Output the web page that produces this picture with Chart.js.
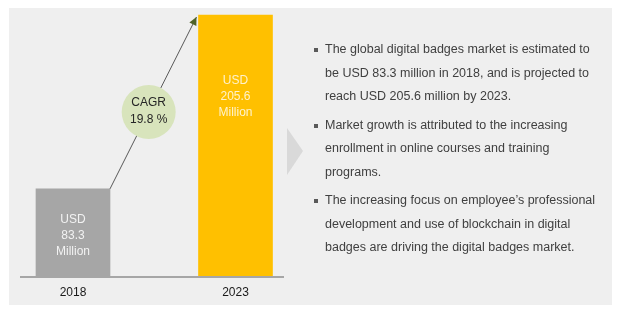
<!DOCTYPE html>
<html>
<head>
<meta charset="utf-8">
<script src="https://cdn.jsdelivr.net/npm/chart.js@4"></script>
<style>
  html, body { margin: 0; padding: 0; background: #ffffff; }
  #wrap { position: relative; width: 619px; height: 317px; }
  #chart { position: absolute; left: 0; top: 0; }
  #notes {
    position: absolute; left: 312px; top: 38px; width: 300px;
    font-family: "Liberation Sans", Arial, sans-serif;
    font-size: 12.5px; line-height: 23.5px; color: #404040;
    margin: 0; padding: 0; list-style: none; white-space: nowrap;
  }
  #notes li { position: relative; padding-left: 13px; margin-bottom: 5px; }
  #notes li::before {
    content: ""; position: absolute; left: 2px; top: 10px;
    width: 4px; height: 4px; background: #595959;
  }
</style>
</head>
<body>
<div id="wrap">
  <canvas id="chart" width="619" height="317"></canvas>
  <ul id="notes"></ul>
</div>
<script>
// data
const years = ['2018', '2023'];
const marketSize = [83.3, 205.6];
const barLabels = [['USD', '83.3', 'Million'], ['USD', '205.6', 'Million']];
const cagrText = ['CAGR', '19.8 %'];
const notes = [
  ['The global digital badges market is estimated to', 'be USD 83.3 million in 2018, and is projected to', 'reach USD 205.6 million by 2023.'],
  ['Market growth is attributed to the increasing', 'enrollment in online courses and training', 'programs.'],
  ['The increasing focus on employee\u2019s professional', 'development and use of blockchain in digital', 'badges are driving the digital badges market.']
];

const ul = document.getElementById('notes');
notes.forEach(lines => {
  const li = document.createElement('li');
  lines.forEach((t, k) => {
    if (k) li.appendChild(document.createElement('br'));
    li.appendChild(document.createTextNode(t));
  });
  ul.appendChild(li);
});

const FONT = '"Liberation Sans", Arial, sans-serif';

// background panel, axis line, arrow, bubble, labels
const decor = {
  id: 'decor',
  beforeDraw(chart) {
    const ctx = chart.ctx;
    ctx.save();
    ctx.fillStyle = '#efefef';
    ctx.fillRect(9, 8, 603, 297);
    // chevron
    ctx.fillStyle = '#d9d9d9';
    ctx.beginPath();
    ctx.moveTo(287, 128);
    ctx.lineTo(303, 151);
    ctx.lineTo(287, 175);
    ctx.closePath();
    ctx.fill();
    ctx.restore();
  },
  afterDatasetsDraw(chart) {
    const ctx = chart.ctx;
    const x = chart.scales.x, y = chart.scales.y;
    const meta = chart.getDatasetMeta(0);
    ctx.save();
    // axis line
    const base = y.bottom;
    ctx.strokeStyle = '#a6a6a6';
    ctx.lineWidth = 2;
    ctx.beginPath();
    ctx.moveTo(20, base + 1);
    ctx.lineTo(284, base + 1);
    ctx.stroke();

    // year labels
    ctx.fillStyle = '#1a1a1a';
    ctx.font = '12px ' + FONT;
    ctx.textAlign = 'center';
    ctx.textBaseline = 'middle';
    years.forEach((lab, i) => ctx.fillText(lab, x.getPixelForTick(i), base + 17));

    // labels inside bars
    const inner = ['#f2f2f2', '#fff2cc'];
    barLabels.forEach((lines, i) => {
      const bar = meta.data[i];
      ctx.fillStyle = inner[i];
      const y0 = i === 0 ? bar.y + 31 : bar.y + 66;
      lines.forEach((l, k) => ctx.fillText(l, bar.x, y0 + k * 16));
    });

    // arrow between bar tops
    const b0 = meta.data[0], b1 = meta.data[1];
    const sx = b0.x + 37, sy = b0.y;
    const ex = b1.x - 39, ey = b1.y + 2;
    ctx.strokeStyle = '#595959';
    ctx.lineWidth = 1;
    ctx.beginPath();
    ctx.moveTo(sx, sy);
    ctx.lineTo(ex, ey);
    ctx.stroke();
    const ang = Math.atan2(ey - sy, ex - sx);
    ctx.fillStyle = '#4f6228';
    ctx.beginPath();
    ctx.moveTo(ex, ey);
    ctx.lineTo(ex - 9 * Math.cos(ang - 0.45), ey - 9 * Math.sin(ang - 0.45));
    ctx.lineTo(ex - 9 * Math.cos(ang + 0.45), ey - 9 * Math.sin(ang + 0.45));
    ctx.closePath();
    ctx.fill();

    // CAGR bubble
    const cy = 112;
    const cx = sx + (ex - sx) * (sy - cy) / (sy - ey);
    ctx.fillStyle = '#d8e4bc';
    ctx.beginPath();
    ctx.arc(cx, cy, 27, 0, Math.PI * 2);
    ctx.fill();
    ctx.fillStyle = '#262626';
    ctx.fillText(cagrText[0], cx, cy - 9);
    ctx.fillText(cagrText[1], cx, cy + 8);
    ctx.restore();
  }
};

new Chart(document.getElementById('chart'), {
  type: 'bar',
  data: {
    labels: years,
    datasets: [{
      data: marketSize,
      backgroundColor: ['#a6a6a6', '#ffc000'],
      barThickness: 74,
      clip: { left: false, right: false, top: false, bottom: 0 }
    }]
  },
  options: {
    responsive: false,
    animation: false,
    layout: { padding: { left: 73, right: 383.5, top: 15, bottom: 41 } },
    scales: {
      x: { display: false, offset: false },
      y: { display: false, min: 22, max: 205.6 }
    },
    plugins: { legend: { display: false }, tooltip: { enabled: false } }
  },
  plugins: [decor]
});
</script>
</body>
</html>
